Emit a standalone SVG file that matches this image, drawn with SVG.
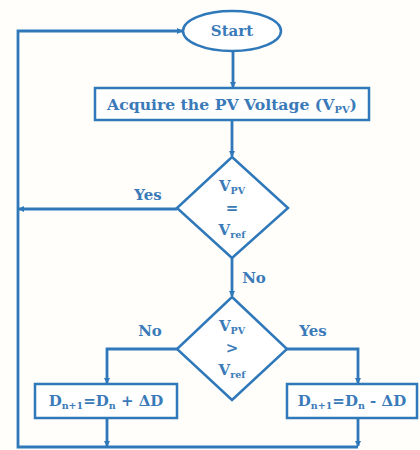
<svg xmlns="http://www.w3.org/2000/svg" width="420" height="450" viewBox="0 0 420 450">
<style>
.s{fill:#ffffff;stroke:#2f78b9;stroke-width:2.5}
.c{fill:none;stroke:#2f78b9;stroke-width:2.8}
.t{fill:#3a7ab8;font-family:"DejaVu Serif","Liberation Serif",serif;font-weight:bold;font-size:15px;text-anchor:middle}
.l{fill:#3a7ab8;font-family:"DejaVu Serif","Liberation Serif",serif;font-weight:bold;font-size:15px;text-anchor:middle}
</style>
<defs>
<marker id="a" markerWidth="6" markerHeight="6" refX="5" refY="3" orient="auto" markerUnits="userSpaceOnUse">
<path d="M0,0 L6,3 L0,6 Z" fill="#2f78b9"/>
</marker>
</defs>
<rect width="420" height="450" fill="#fffefb"/>
<g id="connectors">
<path class="c" d="M233,52 V87" marker-end="url(#a)"/>
<path class="c" d="M232,120 V156" marker-end="url(#a)"/>
<path class="c" d="M177,209 H19" marker-end="url(#a)"/>
<path class="c" d="M232,258 V296" marker-end="url(#a)"/>
<path class="c" d="M177,349 H107 V383" marker-end="url(#a)"/>
<path class="c" d="M287,349 H358 V383" marker-end="url(#a)"/>
<path class="c" d="M107,418 V446" marker-end="url(#a)"/>
<path class="c" d="M358,418 V446" marker-end="url(#a)"/>
<path class="c" d="M358,447 H18 V31 H182" marker-end="url(#a)"/>
<text class="l" x="148" y="200">Yes</text>
<text class="l" x="254" y="283">No</text>
<text class="l" x="150" y="336">No</text>
<text class="l" x="313" y="336">Yes</text>
</g>
<g id="start">
<ellipse class="s" cx="232" cy="31" rx="49" ry="20"/>
<text class="t" x="232" y="36">Start</text>
</g>
<g id="acquire">
<rect class="s" x="95" y="88" width="274" height="32"/>
<text class="t" x="232" y="110" textLength="250" lengthAdjust="spacingAndGlyphs">Acquire the PV Voltage (V<tspan font-size="9.5" dy="3">PV</tspan><tspan dy="-3">)</tspan></text>
</g>
<g id="decision1">
<polygon class="s" points="232,157 288,208 232,258 177,208"/>
<text class="t" x="232" y="191">V<tspan font-size="9.5" dy="3">PV</tspan></text>
<text class="t" x="232" y="213">=</text>
<text class="t" x="232" y="235">V<tspan font-size="9.5" dy="3">ref</tspan></text>
</g>
<g id="decision2">
<polygon class="s" points="232,297 287,349 232,400 177,349"/>
<text class="t" x="232" y="331">V<tspan font-size="9.5" dy="3">PV</tspan></text>
<text class="t" x="232" y="353">&gt;</text>
<text class="t" x="232" y="375">V<tspan font-size="9.5" dy="3">ref</tspan></text>
</g>
<g id="increase">
<rect class="s" x="35" y="384" width="142" height="34"/>
<text class="t" x="106" y="406">D<tspan font-size="9.5" dy="3">n+1</tspan><tspan dy="-3">=D</tspan><tspan font-size="9.5" dy="3">n</tspan><tspan dy="-3"> + ΔD</tspan></text>
</g>
<g id="decrease">
<rect class="s" x="287" y="384" width="130" height="34"/>
<text class="t" x="352" y="406">D<tspan font-size="9.5" dy="3">n+1</tspan><tspan dy="-3">=D</tspan><tspan font-size="9.5" dy="3">n</tspan><tspan dy="-3"> - ΔD</tspan></text>
</g>
</svg>
